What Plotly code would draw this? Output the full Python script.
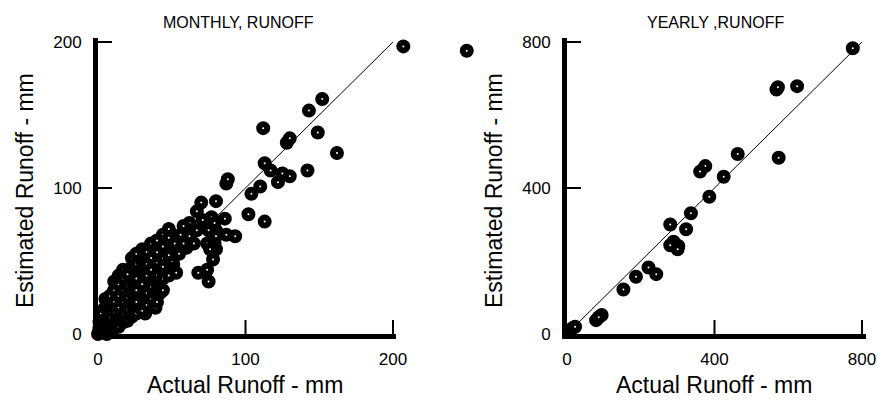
import plotly.graph_objects as go

# Monthly runoff (mm): actual vs estimated
monthly_actual = [207, 250, 152, 143, 112, 128, 130, 149, 162, 142, 113, 117, 122, 130, 125,
                  110, 104, 87, 88, 80, 70, 67, 102, 113, 86, 93, 87, 80, 61, 62, 76, 79, 78,
                  60, 68, 75, 74, 53, 44, 49, 32, 40, 42, 39, 32, 21,
                  60, 56, 47, 51, 67, 71, 77, 74, 62, 43, 52, 49, 58, 54, 65, 79, 75, 80, 80, 76,
                  29, 33, 42, 35, 26, 17, 15, 8, 22, 29, 24, 17, 10, 6, 1, 4, 5, 13, 20, 13,
                  36, 32, 40, 24, 22, 34, 15, 27,
                  0, 1, 2, 3, 2, 4, 5, 6, 7, 8, 9, 10, 11, 12, 13, 14, 15, 16, 17, 18, 19, 20,
                  21, 22, 23, 24, 25, 26, 27, 28, 29, 30, 31, 33, 34, 36, 37, 39, 40, 42, 44,
                  46, 48, 50, 52, 55, 56, 58, 3, 4, 8, 13, 15, 20, 25, 6, 10, 1,
                  2, 2, 2, 5, 5, 5, 5, 8, 8, 8, 8, 11, 11, 11, 11, 11, 14, 14, 14, 14, 14, 14,
                  17, 17, 17, 17, 17, 17, 20, 20, 20, 20, 20, 23, 23, 23, 23, 23, 23,
                  26, 26, 26, 26, 26, 26, 30, 30, 30, 30, 30, 30, 33, 33, 33, 33, 33,
                  36, 36, 36, 36, 36, 40, 40, 40, 40, 40, 44, 44, 44, 44, 44, 48, 48, 48, 48]
monthly_estimated = [197, 194, 161, 153, 141, 131, 134, 138, 124, 112, 117, 112, 104, 108, 110,
                     101, 96, 103, 106, 91, 90, 84, 82, 77, 79, 67, 68, 71, 71, 76, 78, 62, 51,
                     59, 42, 36, 44, 42, 62, 51, 54, 48, 28, 18, 14, 40,
                     71, 60, 66, 48, 71, 78, 80, 62, 67, 63, 59, 69, 74, 66, 62, 76, 71, 67, 58, 58,
                     48, 55, 42, 44, 37, 32, 26, 21, 23, 26, 16, 12, 10, 7, 4, 12, 16, 14, 19, 28,
                     38, 35, 35, 35, 28, 30, 19, 21,
                     0, 2, 1, 4, 6, 2, 7, 4, 9, 5, 12, 8, 14, 10, 17, 12, 20, 14, 22, 16, 25, 18,
                     28, 20, 30, 22, 33, 24, 35, 26, 38, 28, 41, 31, 44, 33, 46, 36, 49, 38, 52,
                     45, 58, 50, 62, 55, 68, 62, 12, 17, 20, 25, 9, 12, 18, 0, 3, 8,
                     3, 8, 14, 2, 10, 18, 24, 4, 12, 20, 26, 6, 15, 22, 30, 36, 5, 10, 18, 26, 34, 40,
                     8, 14, 22, 30, 38, 44, 9, 17, 25, 33, 41, 12, 20, 28, 36, 46, 52,
                     14, 22, 30, 38, 48, 55, 16, 26, 34, 42, 50, 58, 20, 28, 40, 48, 56,
                     24, 32, 44, 52, 62, 22, 30, 40, 56, 64, 30, 38, 46, 60, 68, 40, 54, 66, 72]

# Yearly runoff (mm): actual vs estimated
yearly_actual = [775, 568, 572, 624, 574, 463, 375, 361, 425, 386, 336, 280, 323, 289, 302,
                 280, 300, 221, 242, 187, 153, 94, 79, 86, 17, 10, 22]
yearly_estimated = [783, 670, 676, 679, 483, 493, 460, 445, 431, 376, 331, 300, 287, 253, 241,
                    243, 232, 182, 164, 157, 122, 52, 38, 46, 17, 12, 20]

monthly_line = [0, 200]
yearly_line = [0, 800]
monthly_ticks = [0, 100, 200]
yearly_ticks = [0, 400, 800]

W, H = 877, 404
def px(x):
    return x / W
def py(y):
    return (H - y) / H

# pixel geometry of the plotting areas
L0, L200 = 98, 393      # monthly x: 0 -> 98px, 200 -> 393px
R0, R800 = 567, 862     # yearly x: 0 -> 567px, 800 -> 862px
YB, YT = 334, 42        # y: 0 -> 334px, top tick -> 42px
PAD = 0.012             # small range padding
m_xmax = 260            # monthly x range is wider so the outlying points stay visible
TICK_PX = 14            # inside tick length in pixels

def span(a, b, f):
    return a + (b - a) * f

marker = dict(symbol="circle", size=8, color="white", line=dict(color="black", width=6))

fig = go.Figure()
fig.add_trace(go.Scatter(x=monthly_line, y=monthly_line, mode="lines",
                         line=dict(color="black", width=1), xaxis="x", yaxis="y",
                         showlegend=False, hoverinfo="skip"))
fig.add_trace(go.Scatter(x=monthly_actual, y=monthly_estimated, mode="markers",
                         marker=marker, xaxis="x", yaxis="y", cliponaxis=False,
                         showlegend=False))
fig.add_trace(go.Scatter(x=yearly_line, y=yearly_line, mode="lines",
                         line=dict(color="black", width=1), xaxis="x2", yaxis="y2",
                         showlegend=False, hoverinfo="skip"))
fig.add_trace(go.Scatter(x=yearly_actual, y=yearly_estimated, mode="markers",
                         marker=marker, xaxis="x2", yaxis="y2", cliponaxis=False,
                         showlegend=False))

tickfont = dict(family="Liberation Sans, Arial, sans-serif", size=17, color="black")
axis_common = dict(showline=True, linewidth=5, linecolor="black", showgrid=False,
                   zeroline=False, ticks="", tickfont=tickfont, automargin=False,
                   fixedrange=True, layer="above traces")

m_top = monthly_ticks[-1] * (1 + PAD)
y_top = yearly_ticks[-1] * (1 + PAD)
top_px = span(YB, YT, 1 + PAD)
m_right_px = span(L0, L200, m_xmax / monthly_ticks[-1])
r_right_px = span(R0, R800, 1 + PAD)

fig.update_layout(
    width=W, height=H,
    margin=dict(l=0, r=0, t=0, b=0),
    paper_bgcolor="white", plot_bgcolor="rgba(0,0,0,0)",
    xaxis=dict(domain=[px(L0), px(m_right_px)], range=[0, m_xmax],
               tickmode="array", tickvals=monthly_ticks, anchor="y",
               ticklabelstandoff=6, **axis_common),
    yaxis=dict(domain=[py(YB), py(top_px)], range=[0, m_top], tickmode="array",
               tickvals=monthly_ticks, anchor="x", ticklabelstandoff=8, **axis_common),
    xaxis2=dict(domain=[px(R0), px(r_right_px)], range=[0, y_top],
                tickmode="array", tickvals=yearly_ticks, anchor="y2",
                ticklabelstandoff=6, **axis_common),
    yaxis2=dict(domain=[py(YB), py(top_px)], range=[0, y_top], tickmode="array",
                tickvals=yearly_ticks, anchor="x2", ticklabelstandoff=8, **axis_common),
)

# inside tick marks, placed through each axis at the tick values
tick_line = dict(color="black", width=2)
plot_h = YB - top_px
for xr, yr, ticks, xrange_max, x_px, yrange_max in (
        ("x", "y", monthly_ticks, m_xmax, m_right_px - L0, m_top),
        ("x2", "y2", yearly_ticks, y_top, r_right_px - R0, y_top)):
    dx = TICK_PX * xrange_max / x_px     # tick length in x data units
    dy = TICK_PX * yrange_max / plot_h   # tick length in y data units
    for t in ticks[1:]:
        fig.add_shape(type="line", xref=xr, yref=yr, x0=0, x1=dx, y0=t, y1=t,
                      line=tick_line, layer="above")
        fig.add_shape(type="line", xref=xr, yref=yr, x0=t, x1=t, y0=0, y1=dy,
                      line=tick_line, layer="above")

# the monthly x-axis line stops just after its last tick (white cover over the rest)
fig.add_shape(type="rect", xref="paper", yref="paper", layer="above",
              x0=px(L200 + 3), x1=px(m_right_px + 6), y0=py(YB + 7), y1=py(YB - 3),
              line=dict(width=0), fillcolor="white")

title_font = dict(family="Liberation Sans, Arial, sans-serif", size=16, color="black")
label_font = dict(family="Liberation Sans, Arial, sans-serif", size=23, color="black")

ann = [
    dict(text="MONTHLY, RUNOFF", x=px(238), y=py(22), font=title_font),
    dict(text="YEARLY ,RUNOFF", x=px(715), y=py(22), font=title_font),
    dict(text="Actual Runoff - mm", x=px(245), y=py(385), font=label_font),
    dict(text="Actual Runoff - mm", x=px(714), y=py(385), font=label_font),
    dict(text="Estimated Runoff - mm", x=px(25), y=py(191), font=label_font, textangle=-90),
    dict(text="Estimated Runoff - mm", x=px(494), y=py(191), font=label_font, textangle=-90),
]
for a in ann:
    fig.add_annotation(xref="paper", yref="paper", showarrow=False,
                       xanchor="center", yanchor="middle", **a)

fig.write_html("out.html", config={"displayModeBar": False},
               post_script="document.body.style.margin='0px';")
